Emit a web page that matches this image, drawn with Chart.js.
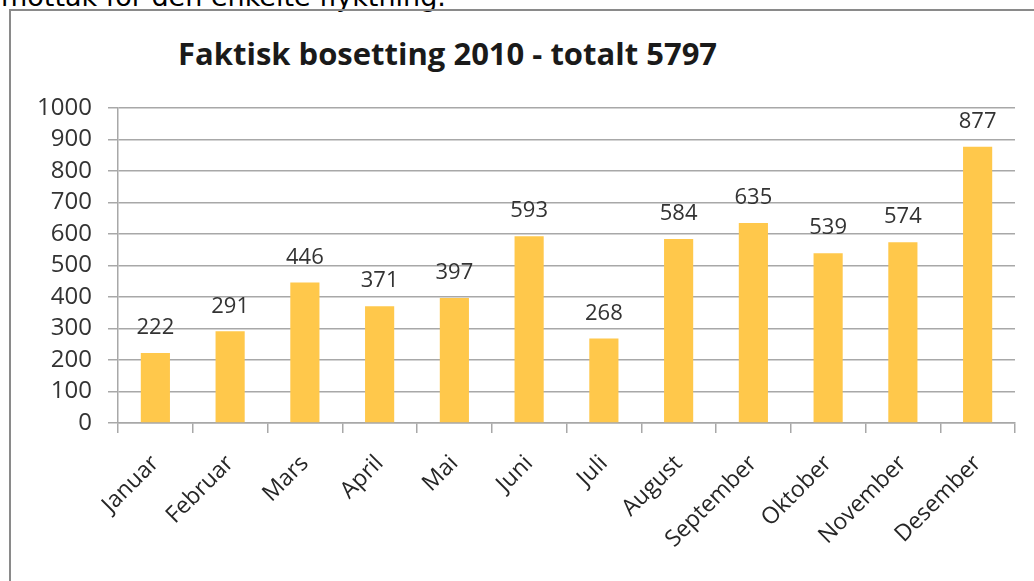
<!DOCTYPE html>
<html>
<head>
<meta charset="utf-8">
<script src="https://cdn.jsdelivr.net/npm/chart.js@4.4.1/dist/chart.umd.min.js"></script>
<style>
  html, body { margin: 0; padding: 0; background: #fff; overflow: hidden; }
  body { width: 1034px; height: 581px; position: relative; font-family: "Open Sans", sans-serif; }
  #above { position: absolute; left: 1px; top: -19px; font-family: "DejaVu Sans", sans-serif; font-size: 27px; line-height: normal; color: #000; white-space: nowrap; }
  #frame { position: absolute; left: 9px; top: 9px; width: 1200px; height: 800px; border: 2px solid #8a8a8a; box-sizing: border-box; }
  #title { position: absolute; left: 178px; top: 32px; font-size: 31px; font-weight: bold; line-height: normal; color: #1a1a1a; white-space: nowrap; }
  #chart { position: absolute; left: 0; top: 0; }
</style>
</head>
<body>
<div id="above">mottak for den enkelte flyktning.</div>
<div id="frame"></div>
<div id="title">Faktisk bosetting 2010 - totalt 5797</div>
<canvas id="chart" width="1034" height="581"></canvas>
<script>
const months = ["Januar", "Februar", "Mars", "April", "Mai", "Juni", "Juli",
  "August", "September", "Oktober", "November", "Desember"];
const settled = [222, 291, 446, 371, 397, 593, 268, 584, 635, 539, 574, 877];
const yMax = 1000;
const yStep = 100;

const gridColor = "#a8a8a8";
const textColor = "#333333";

// draws the number above each bar
const valueLabels = {
  id: "valueLabels",
  afterDatasetsDraw(chart) {
    const ctx = chart.ctx;
    const meta = chart.getDatasetMeta(0);
    ctx.save();
    ctx.font = '22px "Open Sans"';
    ctx.fillStyle = textColor;
    ctx.textAlign = "center";
    ctx.textBaseline = "middle";
    meta.data.forEach((bar, i) => {
      ctx.fillText(String(settled[i]), bar.x, bar.y - 25);
    });
    ctx.restore();
  }
};

new Chart(document.getElementById("chart").getContext("2d"), {
  type: "bar",
  data: {
    labels: months,
    datasets: [{
      label: "Faktisk bosetting",
      data: settled,
      backgroundColor: "#FFC84B",
      borderWidth: 0,
      barPercentage: 0.39,
      categoryPercentage: 1
    }]
  },
  options: {
    responsive: false,
    animation: false,
    layout: { padding: { left: 0, right: 19, top: 108, bottom: 0 } },
    plugins: {
      legend: { display: false },
      title: { display: false },
      tooltip: { enabled: false }
    },
    scales: {
      x: {
        grid: {
          offset: true,
          drawOnChartArea: false,
          drawTicks: true,
          tickLength: 10,
          color: gridColor,
          lineWidth: 1.5
        },
        border: { color: gridColor, width: 1.5 },
        ticks: {
          autoSkip: false,
          maxRotation: 45,
          minRotation: 45,
          padding: 17,
          color: "#262626",
          font: { family: "Open Sans", size: 23 }
        },
        afterFit: scale => { scale.height = 158; }
      },
      y: {
        min: 0,
        max: yMax,
        grid: { color: gridColor, lineWidth: 1.5, tickLength: 10 },
        border: { color: gridColor, width: 1.5 },
        ticks: {
          stepSize: yStep,
          autoSkip: false,
          padding: 16,
          color: textColor,
          font: { family: "Open Sans", size: 24 },
          callback: v => String(v)
        },
        afterFit: scale => { scale.width = 118; }
      }
    }
  },
  plugins: [valueLabels]
});
</script>
</body>
</html>
